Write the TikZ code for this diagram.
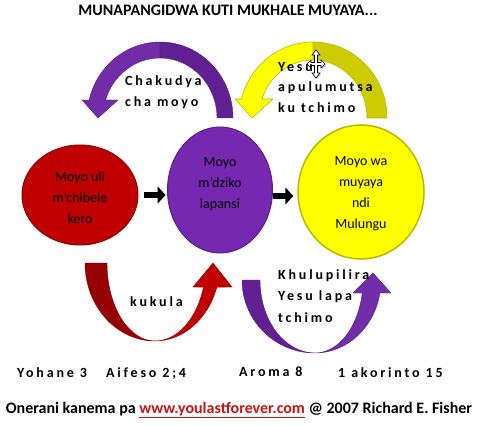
\documentclass[tikz,border=0pt]{standalone}
\usepackage{fontspec}
\setmainfont{Carlito}
\newfontfamily\lsfont[LetterSpace=20]{Carlito}
\usetikzlibrary{shapes.geometric,arrows.meta}
\definecolor{redfill}{RGB}{192,0,0}
\definecolor{redback}{RGB}{150,0,0}
\definecolor{redline}{RGB}{140,0,0}
\definecolor{purfill}{RGB}{118,40,176}
\definecolor{purline}{RGB}{90,30,135}
\definecolor{purfront}{RGB}{114,44,168}
\definecolor{purback}{RGB}{96,32,146}
\definecolor{yelfill}{RGB}{255,255,0}
\definecolor{yelback}{RGB}{204,204,0}
\definecolor{yelline}{RGB}{185,185,0}
\definecolor{linkred}{RGB}{200,20,20}
\begin{document}
\begin{tikzpicture}[x=1pt,y=-1pt,
  bubble/.style={ellipse,inner sep=0pt,line width=1pt},
  bubbletext/.style={align=center,inner sep=0pt,font=\fontsize{14}{21}\selectfont},
  arclabel/.style={align=left,inner sep=0pt,anchor=north west,font=\lsfont\bfseries\fontsize{14}{21.5}\selectfont},
  reflabel/.style={inner sep=0pt,anchor=north west,font=\lsfont\bfseries\fontsize{14}{17}\selectfont},
  blockarrow/.style={line width=6.5pt,-{Triangle[width=17pt,length=8pt]}}
]
\fill[white] (0,0) rectangle (477,425);
\useasboundingbox (0,0) rectangle (477,425);

% title
\node[inner sep=0pt,font=\bfseries\fontsize{16}{18}\selectfont] (title) at (228,10) {MUNAPANGIDWA KUTI MUKHALE MUYAYA...};

% top-left purple curved arrow
\fill[purback,draw=purline,line width=0.4pt] (160,42) arc[start angle=-90,end angle=0,x radius=73,y radius=76] -- (217,118) arc[start angle=0,end angle=-90,x radius=57,y radius=60] -- cycle;
\fill[purfront,draw=purline,line width=0.4pt] (160,42) arc[start angle=-90,end angle=-166.30,x radius=73,y radius=76] -- (82,100) -- (98,118) -- (118,100) -- (105.6,100) arc[start angle=-162.54,end angle=-90,x radius=57,y radius=60] -- cycle;

% top-right yellow curved arrow
\fill[yelback,draw=yelline,line width=0.6pt] (313,42) arc[start angle=-90,end angle=0,x radius=74,y radius=76] -- (367,118) arc[start angle=0,end angle=-90,x radius=54,y radius=58] -- cycle;
\fill[yelfill,draw=yelline,line width=0.6pt] (313,42) arc[start angle=-90,end angle=-165.52,x radius=74,y radius=76] -- (235,99) -- (252,118) -- (273,99) -- (262,99) arc[start angle=-160.88,end angle=-90,x radius=54,y radius=58] -- cycle;

% bottom-left red curved arrow
\fill[redback,draw=redline,line width=0.4pt] (85,263) arc[start angle=180,end angle=90,x radius=70,y radius=78] arc[start angle=90,end angle=180,x radius=48,y radius=78] -- cycle;
\fill[redfill,draw=redline,line width=0.4pt] (155,341) arc[start angle=90,end angle=18,x radius=65,y radius=78] -- (232,287) -- (213,263) -- (193,287) -- (203.5,287.1) arc[start angle=18,end angle=90,x radius=51,y radius=78] -- cycle;

% bottom-right purple curved arrow
\fill[purback,draw=purline,line width=0.4pt] (242,280) arc[start angle=180,end angle=90,x radius=73,y radius=73] arc[start angle=90,end angle=180,x radius=55,y radius=73] -- cycle;
\fill[purfront,draw=purline,line width=0.4pt] (315,353) arc[start angle=90,end angle=10.26,x radius=66,y radius=73] -- (391,293) -- (373,273) -- (353,293) -- (362.2,293) arc[start angle=10.26,end angle=90,x radius=48,y radius=73] -- cycle;

% move cursor
\begin{scope}[shift={(316,64)}]
\fill[black!25] (1,-13) -- (5,-8) -- (2.5,-8) -- (2.5,-0.5) -- (6,-0.5) -- (6,-3) -- (10,1) -- (6,5) -- (6,2.5) -- (2.5,2.5) -- (2.5,10) -- (5,10) -- (1,15) -- (-3,10) -- (-0.5,10) -- (-0.5,2.5) -- (-4,2.5) -- (-4,5) -- (-8,1) -- (-4,-3) -- (-4,-0.5) -- (-0.5,-0.5) -- (-0.5,-8) -- (-3,-8) -- cycle;
\filldraw[fill=white,draw=black,line width=0.6pt] (0,-14) -- (4,-9) -- (1.5,-9) -- (1.5,-1.5) -- (5,-1.5) -- (5,-4) -- (9,0) -- (5,4) -- (5,1.5) -- (1.5,1.5) -- (1.5,9) -- (4,9) -- (0,14) -- (-4,9) -- (-1.5,9) -- (-1.5,1.5) -- (-5,1.5) -- (-5,4) -- (-9,0) -- (-5,-4) -- (-5,-1.5) -- (-1.5,-1.5) -- (-1.5,-9) -- (-4,-9) -- cycle;
\end{scope}

% ellipses
\node[bubble,fill=redfill,draw=redline,minimum width=116pt,minimum height=100pt] (red) at (80,195) {};
\node[bubble,fill=purfill,draw=purline,minimum width=105pt,minimum height=126pt] (pur) at (220,190) {};
\node[bubble,fill=yelfill,draw=yelline,line width=1.5pt,minimum width=126pt,minimum height=134pt] (yel) at (361,192) {};

\node[bubbletext] (redtext) at (80,198) {Moyo uli\\m’chibele\\kero};
\node[bubbletext] (purtext) at (220,184) {Moyo\\m’dziko\\lapansi};
\node[bubbletext] (yeltext) at (361,194) {Moyo wa\\muyaya\\ndi\\Mulungu};

% block arrows
\draw[blockarrow] ([xshift=5pt]red.east) -- ([xshift=-1.5pt]red.east -| pur.west);
\draw[blockarrow] ([yshift=-6pt]pur.east) -- ([yshift=-6pt,xshift=-4pt]pur.east -| yel.west);

% arc labels
\node[arclabel] (l1) at (125,75) {Chakudya\\cha moyo};
\node[arclabel,font=\lsfont\bfseries\fontsize{14}{20.5}\selectfont] (l2) at (278,62) {Yesu\\apulumutsa\\ku tchimo};
\node[arclabel] (l3) at (130,296) {kukula};
\node[arclabel] (l4) at (278,269) {Khulupilira\\Yesu lapa\\tchimo};

% references
\node[reflabel] (r1) at (17,367) {Yohane 3};
\node[reflabel] (r2) at (106,367) {Aifeso 2;4};
\node[reflabel] (r3) at (239,367) {Aroma 8};
\node[reflabel] (r4) at (338,367) {1 akorinto 15};

% footer
\node[inner sep=0pt,font=\bfseries\fontsize{16}{18}\selectfont] (footer) at (239,410) {Onerani kanema pa \textcolor{linkred}{\underline{www.youlastforever.com}} @ 2007 Richard E. Fisher};
\end{tikzpicture}
\end{document}
